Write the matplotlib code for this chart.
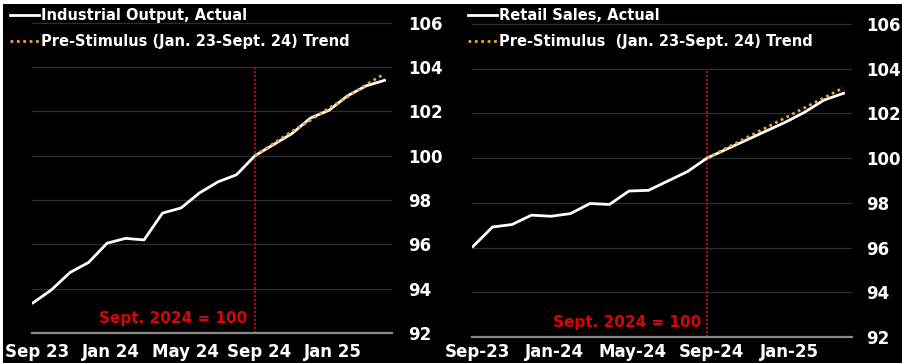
import matplotlib
matplotlib.use("Agg")
import matplotlib.pyplot as plt
from matplotlib.patches import Rectangle
from matplotlib.transforms import ScaledTranslation

# ---------------- data ----------------
# month index 0 = Sep 2023 ... 19 = Apr 2025
tick_pos = [0, 4, 8, 12, 16]
left_tick_labels = ["Sep 23", "Jan 24", "May 24", "Sep 24", "Jan 25"]
right_tick_labels = ["Sep-23", "Jan-24", "May-24", "Sep-24", "Jan-25"]
y_ticks = [92, 94, 96, 98, 100, 102, 104, 106]

months = list(range(20))
industrial_actual = [93.36, 93.95, 94.73, 95.18, 96.05, 96.27, 96.20, 97.41, 97.64, 98.32,
                     98.82, 99.14, 100.0, 100.5, 101.0, 101.7, 102.05, 102.7, 103.15, 103.4]
trend_months = list(range(12, 20))
industrial_trend = [100.0, 100.55, 101.1, 101.6, 102.15, 102.65, 103.2, 103.7]

retail_actual = [96.05, 96.92, 97.03, 97.45, 97.40, 97.52, 97.97, 97.93, 98.53, 98.56,
                 98.98, 99.40, 100.0, 100.4, 100.8, 101.2, 101.6, 102.05, 102.6, 102.9]
retail_trend = [100.0, 100.45, 100.9, 101.35, 101.8, 102.25, 102.7, 103.15]

base_month = 12
base_text = "Sept. 2024 = 100"

# ---------------- style ----------------
W, H = 902, 363
fig = plt.figure(figsize=(W / 100, H / 100), dpi=100, facecolor="white")
bg = Rectangle((3 / W, 0), 1, (H - 4) / H, transform=fig.transFigure,
               facecolor="black", edgecolor="none", zorder=-10)
fig.add_artist(bg)

WHITE = "white"
ORANGE = "#e8a040"
RED = "#e00000"
GRID = "#2e2e2e"
FONT = "DejaVu Sans"


def px_rect(x0, x1, ytop, ybot):
    return [x0 / W, (H - ybot) / H, (x1 - x0) / W, (ybot - ytop) / H]


def make_panel(rect, xlim, ylim, actual, trend, tick_labels, labels, leg_x, text_x_off,
               ypad, xpad):
    ax = fig.add_axes(rect)
    ax.set_zorder(1)
    ax.set_facecolor("none")
    ax.set_xlim(*xlim)
    ax.set_ylim(*ylim)
    for s in ["top", "left", "right"]:
        ax.spines[s].set_visible(False)
    ax.spines["bottom"].set_color("#8a8a8a")
    ax.spines["bottom"].set_linewidth(1.6)
    ax.set_yticks(y_ticks)
    for y in y_ticks[1:]:
        ax.axhline(y, color=GRID, lw=0.9, zorder=1)
    ax.yaxis.tick_right()
    ax.tick_params(axis="y", length=0, pad=ypad, labelsize=12, labelcolor=WHITE)
    ax.set_xticks(tick_pos)
    ax.set_xticklabels(tick_labels)
    ax.tick_params(axis="x", length=0, pad=xpad, labelsize=12, labelcolor=WHITE)
    for lab in ax.get_xticklabels() + ax.get_yticklabels():
        lab.set_fontweight("bold")
        lab.set_family(FONT)
    off = ScaledTranslation(4 / 100, 0, fig.dpi_scale_trans)
    for lab in ax.get_xticklabels():
        lab.set_transform(lab.get_transform() + off)

    ax.plot([base_month, base_month], [ylim[0], 104], color=RED, ls=(0, (1.2, 1.2)),
            lw=1.2, zorder=2)
    ax.text(base_month - text_x_off, 92.3, base_text, color=RED, fontsize=11,
            fontweight="bold", ha="right", va="bottom", family=FONT)

    l1, = ax.plot(months, actual, color=WHITE, lw=2.0, zorder=3, solid_joinstyle="round")
    l2, = ax.plot(trend_months, trend, color=ORANGE, lw=2.0, ls=(0, (1, 1.3)), zorder=4)
    leg = ax.legend([l1, l2], labels, loc="upper left",
                    bbox_to_anchor=(leg_x / W, 1 - 8 / H), bbox_transform=fig.transFigure,
                    frameon=False, borderpad=0, borderaxespad=0, handlelength=2.0,
                    handletextpad=0.15, labelspacing=0.75,
                    prop={"family": FONT, "weight": "bold", "size": 10.5})
    for t in leg.get_texts():
        t.set_color(WHITE)
    return ax


make_panel(px_rect(32, 392, 5, 333), (-1 / 18.5, 359 / 18.5), (92, 106.8),
           industrial_actual, industrial_trend, left_tick_labels,
           ["Industrial Output, Actual", "Pre-Stimulus (Jan. 23-Sept. 24) Trend"], 10, 0.4,
           11.5, 7.5)
make_panel(px_rect(472, 852, 5, 337), (-1 / 19.5, 379 / 19.5), (92, 106.85),
           retail_actual, retail_trend, right_tick_labels,
           ["Retail Sales, Actual", "Pre-Stimulus  (Jan. 23-Sept. 24) Trend"], 468, 0.3,
           10.5, 4.5)

fig.savefig("out.png", dpi=100, facecolor=fig.get_facecolor())
